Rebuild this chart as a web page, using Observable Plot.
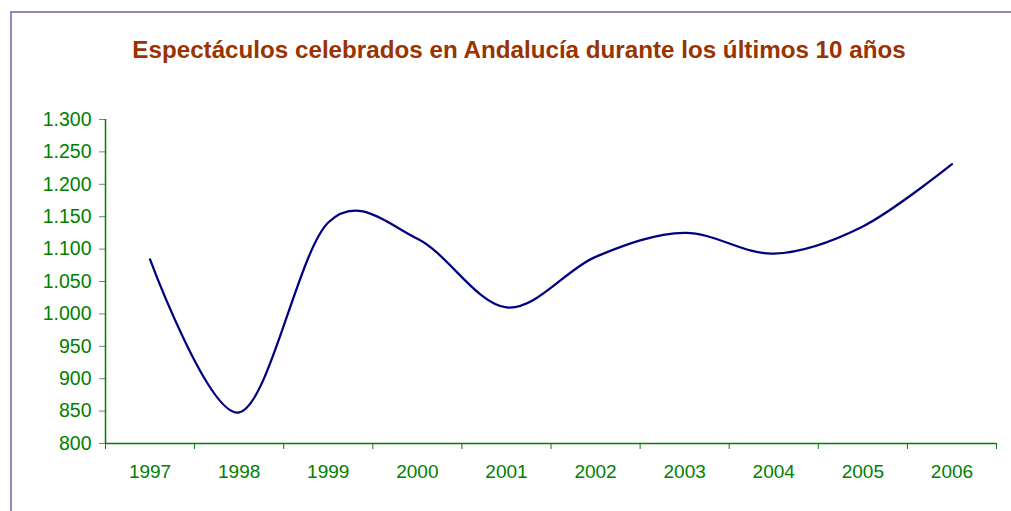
<!DOCTYPE html>
<html>
<head>
<meta charset="utf-8">
<script src="https://cdn.jsdelivr.net/npm/d3@7"></script>
<script src="https://cdn.jsdelivr.net/npm/@observablehq/plot@0.6"></script>
<style>
  html, body { margin: 0; padding: 0; background: #fff; }
  #wrap { position: relative; width: 1011px; height: 511px; overflow: hidden; font-family: "Liberation Sans", Arial, sans-serif; }
  #frame { position: absolute; left: 10px; top: 11px; width: 1100px; height: 600px; border-left: 2px solid #8c8cc4; border-top: 2px solid #8c8cc4; box-sizing: border-box; }
  #title { position: absolute; left: 519px; top: 38px; transform: translateX(-50%); white-space: nowrap; font-weight: bold; font-size: 24.2px; line-height: 24px; color: #993300; }
  #chart { position: absolute; left: 0; top: 0; }
</style>
</head>
<body>
<div id="wrap">
  <div id="frame"></div>
  <div id="chart"></div>
  <div id="title">Espectáculos celebrados en Andalucía durante los últimos 10 años</div>
</div>
<script>
const years = ["1997", "1998", "1999", "2000", "2001", "2002", "2003", "2004", "2005", "2006"];
const values = [1084, 848, 1141, 1116, 1010, 1088, 1125, 1093, 1135, 1231];
const yTicks = [800, 850, 900, 950, 1000, 1050, 1100, 1150, 1200, 1250, 1300];

const data = years.map((y, i) => ({year: y, pos: i + 0.5, value: values[i]}));
const fmt = d3.formatLocale({decimal: ",", thousands: ".", grouping: [3]}).format(",");
const green = "#008000";

const chart = Plot.plot({
  width: 1011,
  height: 511,
  marginLeft: 105,
  marginRight: 15,
  marginTop: 119,
  marginBottom: 68,
  style: {fontFamily: "'Liberation Sans', Arial, sans-serif", background: "transparent"},
  x: {type: "linear", domain: [0, years.length], axis: null},
  y: {type: "linear", domain: [800, 1300], axis: null},
  marks: [
    Plot.axisY({ticks: yTicks, label: null, tickSize: 6, tickPadding: 8, tickFormat: fmt, stroke: "#5a9a5a", fill: green, fontSize: 19.5, color: green}),
    Plot.axisX({ticks: d3.range(years.length + 1), label: null, tickSize: 6, tickFormat: () => "", stroke: green}),
    Plot.axisX({ticks: data.map(d => d.pos), label: null, tickSize: 0, tickPadding: 21, tickFormat: (t) => years[Math.floor(t)], fill: green, fontSize: 19, color: green}),
    Plot.ruleX([0], {stroke: green, strokeWidth: 1.5}),
    Plot.ruleY([800], {stroke: green, strokeWidth: 1.5}),
    Plot.line(data, {x: "pos", y: "value", stroke: "#000080", strokeWidth: 2.25, curve: "cardinal", tension: 0})
  ]
});
document.getElementById("chart").appendChild(chart);
</script>
</body>
</html>
